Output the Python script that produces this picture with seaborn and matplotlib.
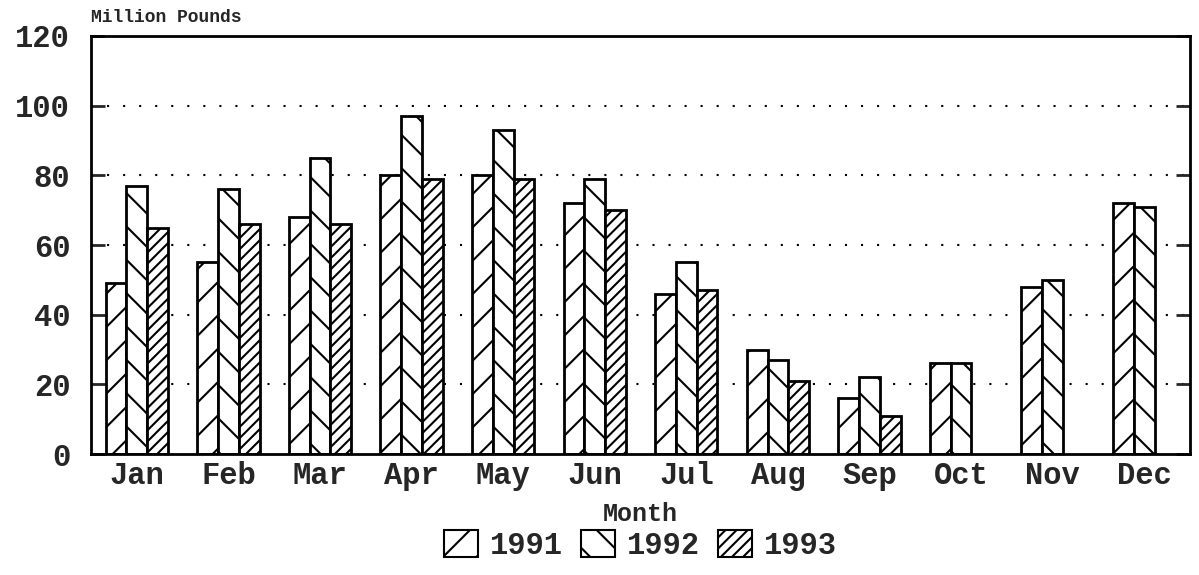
import numpy as np
import pandas as pd
import matplotlib
matplotlib.use("Agg")
import matplotlib.pyplot as plt
from matplotlib.patches import Patch
import seaborn as sns

months = ["Jan", "Feb", "Mar", "Apr", "May", "Jun", "Jul", "Aug", "Sep", "Oct", "Nov", "Dec"]
years = ["1991", "1992", "1993"]
v1991 = [49, 55, 68, 80, 80, 72, 46, 30, 16, 26, 48, 72]
v1992 = [77, 76, 85, 97, 93, 79, 55, 27, 22, 26, 50, 71]
v1993 = [65, 66, 66, 79, 79, 70, 47, 21, 11, np.nan, np.nan, np.nan]
y_ticks = [0, 20, 40, 60, 80, 100, 120]

sns.set_theme(style="white")
plt.rcParams['font.family'] = ['Liberation Mono', 'DejaVu Sans']
plt.rcParams['hatch.linewidth'] = 1.5

rows = []
for yr, vals in zip(years, [v1991, v1992, v1993]):
    for m, v in zip(months, vals):
        rows.append({"Month": m, "Year": yr, "Value": v})
df = pd.DataFrame(rows)

fig = plt.figure(figsize=(11.99, 5.75), dpi=100)
ax = fig.add_axes([0.0759, 0.2104, 0.9166, 0.727])

sns.barplot(data=df, x="Month", y="Value", hue="Year", order=months, hue_order=years,
            palette=["white"] * 3, edgecolor="black", linewidth=2.0, width=0.68,
            errorbar=None, ax=ax, saturation=1, legend=False)

hatches = ["/", "\\", "///"]
for cont, h in zip(ax.containers, hatches):
    for bar in cont:
        bar.set_hatch(h)
        bar.set_edgecolor("black")

ax.set_ylim(0, 120)
ax.set_yticks(y_ticks)
ax.set_yticklabels([str(t) for t in y_ticks], fontsize=22)
ax.tick_params(axis='y', direction='in', length=10, width=2.0, left=True, right=True, pad=15)
ax.tick_params(axis='x', length=0, labelsize=22, pad=5)
for lab in ax.get_xticklabels():
    lab.set_fontweight('bold')
for lab in ax.get_yticklabels():
    lab.set_fontweight('bold')

for yv in [20, 40, 60, 80, 100]:
    ax.axhline(yv, color="black", linestyle=(0, (1, 6.7)), linewidth=1.5, zorder=0)

for s in ax.spines.values():
    s.set_visible(True)
    s.set_color("black")
    s.set_linewidth(2.0)

ax.set_xlabel("Month", fontsize=18, fontweight='bold', labelpad=8)
ax.set_ylabel("")
ax.text(0.0, 1.025, "Million Pounds", transform=ax.transAxes, fontsize=13,
        fontweight='bold', ha='left', va='bottom')

handles = [Patch(facecolor="white", edgecolor="black", hatch=h, linewidth=1.5) for h in hatches]
leg = ax.legend(handles, years, loc="center", bbox_to_anchor=(0.5, -0.218), ncol=3, frameon=False,
                fontsize=22, handlelength=1.1, handleheight=1.0, columnspacing=0.6,
                handletextpad=0.4, borderpad=0)
for t in leg.get_texts():
    t.set_fontweight('bold')

fig.savefig("out.png", dpi=100)
